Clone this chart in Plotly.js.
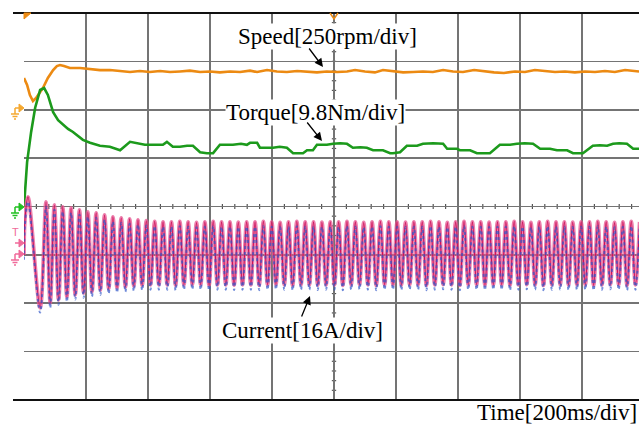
<!DOCTYPE html>
<html><head><meta charset="utf-8">
<script src="https://cdn.plot.ly/plotly-3.0.1.min.js"></script>
<style>html,body{margin:0;padding:0;background:#fff;}#chart{width:639px;height:426px;}</style>
</head><body><div id="chart"></div>
<script>
// ---- data (time in ms) ----
const speedTime = [0,10,19,29,39,52,61,77,94,106,116,129,148,181,213,245,277,310,342,374,406,439,471,503,535,568,600,632,665,697,729,752,784,816,848,881,913,945,977,1010,1042,1068,1100,1132,1158,1190,1223,1255,1287,1319,1352,1384,1416,1452,1484,1516,1548,1584,1616,1648,1680,1713,1745,1777,1810,1842,1874,1906,1939,1984];
const speedRpm = [155,119,67,36,52,83,103,155,196,217,222,217,207,207,202,196,196,191,186,191,186,191,186,189,193,186,189,184,189,186,193,186,196,189,186,191,186,184,189,186,189,196,189,184,196,189,184,186,189,186,196,189,186,196,189,184,181,189,186,196,191,186,189,184,189,186,191,186,196,189];

const torqueTime = [0,10,23,36,52,65,77,94,110,126,142,158,174,190,213,245,277,310,342,390,448,461,480,503,526,545,568,590,610,632,655,674,700,719,729,752,761,784,803,825,848,868,900,913,932,945,977,997,1020,1042,1061,1085,1106,1126,1158,1181,1190,1213,1235,1268,1287,1320,1352,1365,1397,1406,1439,1461,1503,1535,1568,1590,1615,1642,1665,1697,1719,1752,1771,1803,1835,1858,1881,1900,1920,1945,1965,1984];
const torqueNm = [0,9.1,15.2,20.1,23.7,24.1,22.7,19.2,17.6,16.6,15.8,15.2,14.4,13.6,13.0,12.4,12.2,11.5,13.2,12.6,12.6,13.2,12.2,12.2,12.4,12.4,11.1,10.9,10.9,12.6,12.6,12.6,12.8,12.6,13.0,13.0,12.0,12.0,12.0,12.2,12.0,10.9,10.9,11.5,11.5,12.6,12.6,12.8,12.9,12.8,12.0,12.1,12.0,11.5,11.5,10.9,10.9,11.1,12.4,12.4,12.8,12.9,12.8,11.8,11.8,11.5,11.5,10.9,10.9,12.6,12.6,12.8,12.9,12.8,11.8,11.8,11.5,11.5,10.9,10.9,12.4,12.5,12.4,12.8,12.9,12.8,11.8,11.8];

// current: successive extrema (peak, trough, ...) of the phase current waveform
const currentTime = [0,3,13,52,
 71.0,84.5,98.0,111.5,124.9,138.4,151.9,165.4,178.9,192.4,205.9,219.3,232.8,246.3,259.8,273.3,286.8,300.2,313.7,327.2,340.7,354.2,367.7,381.2,394.6,408.1,
 421.6,435.1,448.6,462.1,475.6,489.0,502.5,516.0,529.5,543.0,556.5,570.0,583.4,596.9,610.4,623.9,637.4,650.9,664.3,677.8,691.3,704.8,718.3,731.8,745.3,758.7,
 772.2,785.7,799.2,812.7,826.2,839.6,853.1,866.6,880.1,893.6,907.1,920.6,934.0,947.5,961.0,974.5,988.0,1001.5,1015.0,1028.4,1041.9,1055.4,1068.9,1082.4,
 1095.9,1109.3,1122.8,1136.3,1149.8,1163.3,1176.8,1190.3,1203.7,1217.2,1230.7,1244.2,1257.7,1271.2,1284.7,1298.1,1311.6,1325.1,1338.6,1352.1,1365.6,1379.0,
 1392.5,1406.0,1419.5,1433.0,1446.5,1460.0,1473.4,1486.9,1500.4,1513.9,1527.4,1540.9,1554.4,1567.8,1581.3,1594.8,1608.3,1621.8,1635.3,1648.7,1662.2,1675.7,
 1689.2,1702.7,1716.2,1729.7,1743.1,1756.6,1770.1,1783.6,1797.1,1810.6,1824.1,1837.5,1851.0,1864.5,1878.0,1891.5,1905.0,1918.4,1931.9,1945.4,1958.9,1972.4,1985.9];
const currentA = [0,11.6,19.2,-17.5,
 17.5,-15.9,16.5,-14.9,15.9,-13.9,15.5,-13.2,14.9,-12.6,
 14.2,-12.2,13.9,-11.6,13.2,-11.2,12.6,-10.9,12.2,-10.6,
 11.9,-10.3,11.6,-10.1,11.3,-9.9,11.1,-9.9,
 10.9,-9.9,10.9,-10.1,11.1,-9.9,10.9,-9.8,10.7,-9.9,
 10.9,-10.1,11.1,-9.9,10.9,-9.9,10.9,-10.0,10.8,-9.9,
 10.9,-9.9,10.9,-10.1,11.1,-9.9,10.9,-9.8,10.7,-9.9,
 10.9,-10.1,11.1,-9.9,10.9,-9.9,10.9,-10.0,10.8,-9.9,
 10.9,-9.9,10.9,-10.1,11.1,-9.9,10.9,-9.8,10.7,-9.9,
 10.9,-10.1,11.1,-9.9,10.9,-9.9,10.9,-10.0,10.8,-9.9,
 10.9,-9.9,10.9,-10.1,11.1,-9.9,10.9,-9.8,10.7,-9.9,
 10.9,-10.1,11.1,-9.9,10.9,-9.9,10.9,-10.0,10.8,-9.9,
 10.9,-9.9,10.9,-10.1,11.1,-9.9,10.9,-9.8,10.7,-9.9,
 10.9,-10.1,11.1,-9.9,10.9,-9.9,10.9,-10.0,10.8,-9.9,
 10.9,-9.9,10.9,-10.1,11.1,-9.9,10.9,-9.8,10.7,-9.9,
 10.9,-10.1,11.1,-9.9,10.9];

const speedLabel = 'Speed[250rpm/div]';
const torqueLabel = 'Torque[9.8Nm/div]';
const currentLabel = 'Current[16A/div]';
const timeLabel = 'Time[200ms/div]';

// ---- channel settings (scale per division, zero position in divisions) ----
const DIVS = 8;
const speedPerDiv = 250, torquePerDiv = 9.8, currentPerDiv = 16;
const speedZero = 6.036, torqueZero = 3.99, currentZero = 3.0, blueZero = 2.9;
function chRange(zero, perDiv){ return [-zero*perDiv, (DIVS-zero)*perDiv]; }

// ---- pixel helpers for decorations ----
const L=24, R=639, T=13, B=400;
function px(x){ return (x-L)/(R-L); }
function py(y){ return (B-y)/(B-T); }

const ORANGE='#ec8a12', GREEN='#1c9a1c', BLUE='rgba(47,85,200,0.7)';
const MK_OR='#f5a830', MK_GR='#22c022', MK_PK='#f06a9a';

const traces = [
  {x: speedTime, y: speedRpm, yaxis:'y2', mode:'lines', line:{color:ORANGE, width:2.6}, hoverinfo:'skip'},
  {x: torqueTime, y: torqueNm, yaxis:'y3', mode:'lines', line:{color:GREEN, width:2.6}, hoverinfo:'skip'},
  {x: currentTime, y: currentA, yaxis:'y5', mode:'lines', line:{color:BLUE, width:2, dash:'dot', shape:'spline', smoothing:1}, hoverinfo:'skip'},
  {x: currentTime, y: currentA, yaxis:'y4', mode:'lines', line:{color:'rgba(230,85,145,0.75)', width:3.8, shape:'spline', smoothing:1}, hoverinfo:'skip'},
  {x: currentTime, y: currentA, yaxis:'y4', mode:'lines', line:{color:'#cc1058', width:1.1, shape:'spline', smoothing:1}, hoverinfo:'skip'}
];

const shapes = [];
shapes.push({type:'line', xref:'paper', yref:'paper', x0:px(13), x1:1, y0:1, y1:1, line:{color:'#111', width:2}});
shapes.push({type:'line', xref:'paper', yref:'paper', x0:px(13), x1:1, y0:0, y1:0, line:{color:'#111', width:2}});
for (let d=0.2; d<DIVS-0.01; d+=0.2){
  shapes.push({type:'line', xref:'x', yref:'y', x0:993, x1:1007, y0:d, y1:d, layer:'below', line:{color:'#555', width:1.2}});
}
for (let t=40; t<1990; t+=40){
  shapes.push({type:'line', xref:'x', yref:'y', x0:t, x1:t, y0:3.95, y1:4.05, layer:'below', line:{color:'#555', width:1.2}});
}
function P(pts){ return 'M'+pts.map(p=>px(p[0])+','+py(p[1])).join('L'); }
shapes.push({type:'path', xref:'paper', yref:'paper', path:P([[24,13],[31,13],[24,19]])+'Z', fillcolor:ORANGE, line:{color:ORANGE, width:1}});
shapes.push({type:'path', xref:'paper', yref:'paper', path:P([[330,13],[334,19],[338,13]]), line:{color:ORANGE, width:1.5}});
function marker(y, col, ground){
  shapes.push({type:'path', xref:'paper', yref:'paper', path:P([[19,y-4],[24,y],[19,y+4]])+'Z', fillcolor:col, line:{color:col, width:1}});
  shapes.push({type:'path', xref:'paper', yref:'paper', path:P([[15,y],[19,y]]), line:{color:col, width:1.5}});
  if (ground){
    shapes.push({type:'path', xref:'paper', yref:'paper', path:P([[15,y],[15,y+6]]), line:{color:col, width:1.5}});
    shapes.push({type:'path', xref:'paper', yref:'paper', path:P([[11,y+6],[19,y+6]]), line:{color:col, width:1.5}});
    shapes.push({type:'path', xref:'paper', yref:'paper', path:P([[12.5,y+8.5],[17.5,y+8.5]]), line:{color:col, width:1.5}});
    shapes.push({type:'path', xref:'paper', yref:'paper', path:P([[14,y+11],[16,y+11]]), line:{color:col, width:1.5}});
  }
}
marker(108, MK_OR, true);
marker(207, MK_GR, true);
marker(243, MK_PK, false);
marker(254, MK_PK, true);

const FONT = {family:'"Liberation Serif","Times New Roman",serif', size:23, color:'#000'};
const annotations = [
  {xref:'paper', yref:'paper', x:px(327), y:py(36), text:speedLabel, showarrow:false, font:FONT, bgcolor:'#fff', xanchor:'center', yanchor:'middle', borderpad:0},
  {xref:'paper', yref:'paper', x:px(315), y:py(112), text:torqueLabel, showarrow:false, font:FONT, bgcolor:'#fff', xanchor:'center', yanchor:'middle', borderpad:0},
  {xref:'paper', yref:'paper', x:px(302), y:py(330), text:currentLabel, showarrow:false, font:FONT, bgcolor:'#fff', xanchor:'center', yanchor:'middle', borderpad:0},
  {xref:'paper', yref:'paper', x:px(638), y:py(412), text:timeLabel, showarrow:false, font:FONT, xanchor:'right', yanchor:'middle', borderpad:0},
  {xref:'paper', yref:'paper', x:px(323), y:py(67), ax:-15, ay:-20, text:'', showarrow:true, arrowhead:2, arrowsize:1.3, arrowwidth:1.3, arrowcolor:'#000'},
  {xref:'paper', yref:'paper', x:px(322), y:py(141), ax:-16, ay:-20, text:'', showarrow:true, arrowhead:2, arrowsize:1.3, arrowwidth:1.3, arrowcolor:'#000'},
  {xref:'paper', yref:'paper', x:px(310), y:py(296), ax:-9, ay:22, text:'', showarrow:true, arrowhead:2, arrowsize:1.3, arrowwidth:1.3, arrowcolor:'#000'},
  {xref:'paper', yref:'paper', x:px(15), y:py(232), text:'T', showarrow:false, font:{family:'"Liberation Sans",Arial,sans-serif', size:11, color:MK_PK}, xanchor:'center', yanchor:'middle'}
];

const hidden = {visible:false, overlaying:'y', fixedrange:true};
const layout = {
  width:639, height:426,
  margin:{l:L, r:0, t:T, b:426-B},
  paper_bgcolor:'#fff', plot_bgcolor:'#fff',
  showlegend:false,
  xaxis:{range:[0,(R-L)/62*200], tick0:0, dtick:200, showgrid:true, gridcolor:'#747474', gridwidth:1.6, zeroline:false, showline:false, showticklabels:false, ticks:''},
  yaxis:{range:[0,DIVS], tick0:0, dtick:1, showgrid:true, gridcolor:'#747474', gridwidth:1.6, zeroline:false, showline:false, showticklabels:false, ticks:''},
  yaxis2:Object.assign({range:chRange(speedZero, speedPerDiv)}, hidden),
  yaxis3:Object.assign({range:chRange(torqueZero, torquePerDiv)}, hidden),
  yaxis4:Object.assign({range:chRange(currentZero, currentPerDiv)}, hidden),
  yaxis5:Object.assign({range:chRange(blueZero, currentPerDiv)}, hidden),
  shapes:shapes, annotations:annotations
};
Plotly.newPlot('chart', traces, layout, {staticPlot:true, displayModeBar:false});
</script>
</body></html>
